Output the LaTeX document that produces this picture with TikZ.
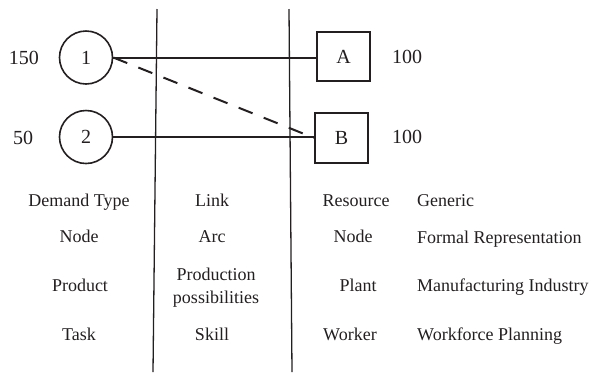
\documentclass[tikz,border=0pt]{standalone}
\usepackage{fontspec}
\setmainfont{Liberation Serif}
\definecolor{ink}{RGB}{35,31,32}
\begin{document}
\begin{tikzpicture}[x=1pt,y=-1pt,
  every node/.style={text=ink},
  demand/.style={draw=ink,circle,line width=1.6pt,minimum size=53pt,inner sep=0pt,font=\fontsize{20}{24}\selectfont},
  res/.style={draw=ink,rectangle,line width=1.4pt,minimum width=53pt,minimum height=49pt,inner sep=0pt,font=\fontsize{20}{24}\selectfont},
  numlab/.style={font=\fontsize{20}{24}\selectfont,inner sep=0pt},
  cell/.style={font=\fontsize{18}{23}\selectfont,inner sep=0pt,anchor=base},
  cellL/.style={font=\fontsize{18}{23}\selectfont,inner sep=0pt,anchor=base west},
  link/.style={draw=ink,line width=2pt},
  dlink/.style={draw=ink,line width=2pt,dash pattern=on 15pt off 12pt},
  sep/.style={draw=ink,line width=1.3pt}]
\useasboundingbox (0,0) rectangle (593,376);
% separators
\coordinate (s1t) at (157,9);
\coordinate (s1b) at (153,372);
\coordinate (s2t) at (289,9);
\coordinate (s2b) at (292,372);
\draw[sep] (s1t) -- (s1b);
\draw[sep] (s2t) -- (s2b);
% nodes
\node[demand] (d1) at (86,57.5) {1};
\node[demand] (d2) at (86,137) {2};
\node[res] (A) at (343.5,56.5) {A};
\node[res,minimum height=50pt] (B) at (341.5,138) {B};
\node[numlab] (l150) at (24,57.5) {150};
\node[numlab] (l50) at (23,138) {50};
\node[numlab] (lA) at (407,57) {100};
\node[numlab] (lB) at (407,137) {100};
% links
\draw[link] (d1) -- (A.west |- d1);
\draw[link] (d2) -- (B.west |- d2);
\draw[dlink] (d1.east) -- (B.west);
% table
\node[cell] (c11) at (79,206) {Demand Type};
\node[cell] (c21) at (79,242) {Node};
\node[cell] (c31) at (80,291) {Product};
\node[cell] (c41) at (79,340) {Task};
\node[cell] (c12) at (212,206) {Link};
\node[cell] (c22) at (212,242) {Arc};
\node[font=\fontsize{18}{23}\selectfont,inner sep=0pt,align=center] (c32) at (216,287.5) {Production\\possibilities};
\node[cell] (c42) at (212,340) {Skill};
\node[cell] (c13) at (356,206) {Resource};
\node[cell] (c23) at (353,242) {Node};
\node[cell] (c33) at (358,291) {Plant};
\node[cell] (c43) at (350,340) {Worker};
\node[cellL] (c14) at (417,206) {Generic};
\node[cellL] (c24) at (417,243) {Formal Representation};
\node[cellL] (c34) at (417,291) {Manufacturing Industry};
\node[cellL] (c44) at (417,340) {Workforce Planning};
\end{tikzpicture}
\end{document}
